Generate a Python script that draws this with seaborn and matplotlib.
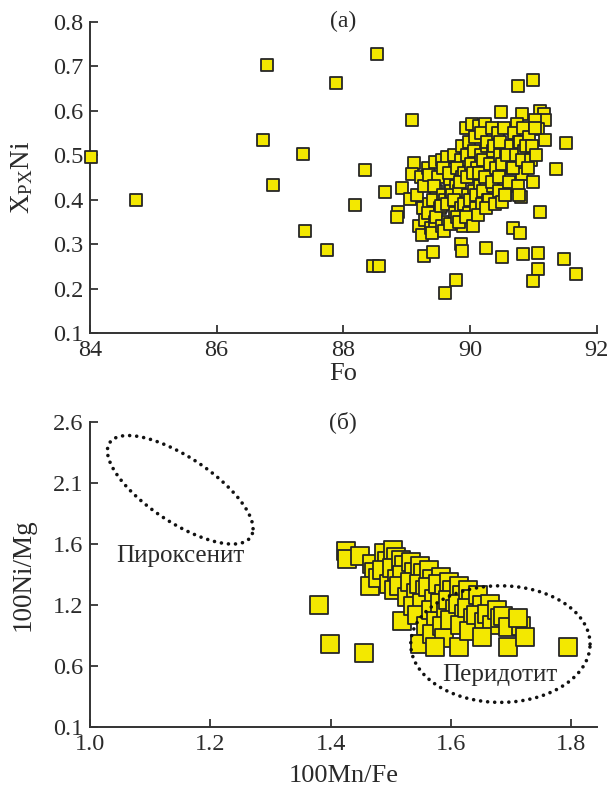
import numpy as np
import matplotlib
matplotlib.use("Agg")
import matplotlib.pyplot as plt
import seaborn as sns

# ---- panel (a): Fo vs X_PX Ni ----
fo_out = [84.02, 84.72, 86.80, 86.73, 86.89, 87.37, 87.39, 87.74, 87.88, 88.53,
          88.34, 88.18, 88.47, 88.56, 88.65, 88.87, 88.85, 88.93, 89.08, 89.12,
          89.05, 89.08, 89.27, 89.42, 89.60, 89.78, 89.85, 89.87, 90.25, 90.51,
          90.49, 90.75, 90.99, 90.82, 91.11, 91.17, 91.19, 91.03, 91.07, 91.19,
          91.51, 91.36, 91.11, 90.82, 90.99, 90.68, 90.79, 90.83, 91.08, 91.08,
          90.99, 91.48, 91.68, 90.80]
ni_out = [0.495, 0.400, 0.702, 0.534, 0.433, 0.503, 0.330, 0.286, 0.662, 0.728,
          0.466, 0.387, 0.250, 0.250, 0.416, 0.371, 0.360, 0.427, 0.580, 0.482,
          0.401, 0.458, 0.273, 0.283, 0.189, 0.220, 0.299, 0.284, 0.292, 0.272,
          0.597, 0.655, 0.668, 0.593, 0.599, 0.592, 0.578, 0.578, 0.559, 0.534,
          0.527, 0.468, 0.373, 0.458, 0.440, 0.337, 0.324, 0.278, 0.280, 0.243,
          0.217, 0.266, 0.233, 0.405]

fo_core = [89.22, 89.16, 89.26, 89.19,
           89.33, 89.27, 89.36, 89.29, 89.24, 89.38,
           89.44, 89.35, 89.47, 89.41, 89.33, 89.45, 89.40,
           89.55, 89.49, 89.43, 89.58, 89.52, 89.46, 89.55,
           89.64, 89.57, 89.68, 89.61, 89.54, 89.66, 89.59, 89.70,
           89.74, 89.67, 89.78, 89.71, 89.63, 89.76, 89.69,
           89.85, 89.80, 89.88, 89.82, 89.75, 89.86, 89.79, 89.89,
           89.93, 89.87, 89.96, 89.91, 89.84, 89.97, 89.90, 89.99, 89.83,
           90.03, 89.98, 90.07, 90.01, 89.95, 90.06, 90.00, 90.09, 89.94,
           90.14, 90.08, 90.17, 90.11, 90.05, 90.16, 90.10, 90.19, 90.04,
           90.23, 90.18, 90.27, 90.21, 90.14, 90.26, 90.20, 90.29, 90.13,
           90.34, 90.27, 90.37, 90.31, 90.24, 90.36, 90.30, 90.25,
           90.44, 90.38, 90.47, 90.41, 90.35, 90.46, 90.40,
           90.54, 90.48, 90.57, 90.51, 90.45, 90.55, 90.50,
           90.64, 90.58, 90.66, 90.61, 90.56,
           90.74, 90.70, 90.77, 90.72, 90.68, 90.75,
           90.84, 90.79, 90.86, 90.82, 90.77,
           90.93, 90.89, 90.96, 90.91,
           91.02, 90.98, 91.04]
ni_core = [0.450, 0.410, 0.380, 0.340,
           0.470, 0.430, 0.390, 0.355, 0.320, 0.335,
           0.485, 0.455, 0.420, 0.400, 0.370, 0.350, 0.325,
           0.490, 0.450, 0.430, 0.410, 0.380, 0.360, 0.340,
           0.495, 0.470, 0.440, 0.400, 0.385, 0.350, 0.330, 0.420,
           0.500, 0.460, 0.430, 0.410, 0.390, 0.370, 0.345,
           0.490, 0.470, 0.450, 0.420, 0.400, 0.380, 0.360, 0.340,
           0.560, 0.520, 0.500, 0.460, 0.440, 0.410, 0.390, 0.370, 0.350,
           0.570, 0.530, 0.510, 0.480, 0.450, 0.420, 0.400, 0.380, 0.360,
           0.565, 0.540, 0.500, 0.470, 0.460, 0.430, 0.410, 0.390, 0.340,
           0.570, 0.550, 0.520, 0.490, 0.460, 0.440, 0.420, 0.400, 0.365,
           0.560, 0.530, 0.510, 0.480, 0.450, 0.430, 0.400, 0.380,
           0.550, 0.520, 0.500, 0.470, 0.440, 0.420, 0.390,
           0.560, 0.530, 0.500, 0.480, 0.450, 0.410, 0.395,
           0.520, 0.500, 0.470, 0.440, 0.410,
           0.570, 0.550, 0.530, 0.500, 0.470, 0.430,
           0.560, 0.530, 0.510, 0.490, 0.410,
           0.540, 0.520, 0.490, 0.470,
           0.560, 0.520, 0.500]

# ---- panel (б): 100Mn/Fe vs 100Ni/Mg ----
mnfe = [1.380, 1.399, 1.456, 1.794, 1.425, 1.427, 1.448,
        1.468, 1.472, 1.466, 1.478,
        1.488, 1.493, 1.485, 1.497,
        1.503, 1.508, 1.502, 1.511, 1.506,
        1.516, 1.522, 1.519, 1.514, 1.527, 1.519,
        1.534, 1.538, 1.531, 1.541, 1.536,
        1.548, 1.553, 1.546, 1.557, 1.551, 1.544, 1.558, 1.548,
        1.563, 1.568, 1.561, 1.572, 1.566, 1.575, 1.569,
        1.583, 1.578, 1.588, 1.581, 1.592, 1.585, 1.589, 1.574,
        1.597, 1.602, 1.595, 1.606, 1.599,
        1.613, 1.618, 1.611, 1.622, 1.615, 1.613,
        1.628, 1.633, 1.626, 1.637, 1.630,
        1.645, 1.651, 1.642, 1.655,
        1.664, 1.659, 1.668, 1.651,
        1.676, 1.681,
        1.687, 1.694, 1.694,
        1.717, 1.712, 1.723]
nimg = [1.103, 0.780, 0.708, 0.753, 1.546, 1.479, 1.506,
        1.44, 1.37, 1.26, 1.32,
        1.53, 1.46, 1.39, 1.27,
        1.55, 1.49, 1.40, 1.31, 1.22,
        1.47, 1.43, 1.35, 1.26, 1.17, 0.97,
        1.45, 1.37, 1.29, 1.20, 1.09,
        1.42, 1.36, 1.27, 1.22, 1.12, 1.02, 0.93, 0.78,
        1.39, 1.31, 1.25, 1.15, 1.06, 0.97, 0.86,
        1.33, 1.27, 1.19, 1.12, 1.04, 0.93, 0.83, 0.76,
        1.29, 1.22, 1.14, 1.07, 0.98,
        1.26, 1.18, 1.11, 1.03, 0.94, 0.76,
        1.22, 1.15, 1.08, 0.99, 0.89,
        1.18, 1.10, 1.02, 0.96,
        1.11, 1.03, 0.94, 0.84,
        1.06, 0.99,
        1.01, 0.92, 0.76,
        0.93, 0.99, 0.84]

# tick positions and their printed labels (panel б)
yticks_b = [0.1, 0.6, 1.1, 1.6, 2.1, 2.6]
ylabels_b = ["0.1", "0.6", "1.2", "1.6", "2.1", "2.6"]

# dotted field outlines: centre, half-widths, tilt phase, label position
fields = {
    "Пироксенит": dict(cx=1.150, cy=2.045, ax=0.121, ay=0.445, ph=-0.80,
                       tx=1.151, ty=1.505),
    "Перидотит": dict(cx=1.682, cy=0.780, ax=0.149, ay=0.478, ph=0.0,
                      tx=1.681, ty=0.526),
}

sns.set_style("ticks")
plt.rcParams["font.family"] = ["Liberation Serif", "DejaVu Serif"]
plt.rcParams["mathtext.fontset"] = "custom"
plt.rcParams["mathtext.rm"] = "Liberation Serif"
plt.rcParams["mathtext.it"] = "Liberation Serif:italic"

YELLOW = "#f3e800"
EDGE = "#262626"
INK = "#2a2a2a"

fig = plt.figure(figsize=(6.12, 7.90), dpi=100)
ax1 = fig.add_axes([0.147, 0.5785, 0.828, 0.394])
ax2 = fig.add_axes([0.147, 0.0797, 0.828, 0.386])

fo_all = fo_out + fo_core
ni_all = ni_out + ni_core
sns.scatterplot(x=fo_all, y=ni_all, ax=ax1, marker="s", s=63, color=YELLOW,
                edgecolor=EDGE, linewidth=1.3, zorder=3, clip_on=False)
ax1.set_xlim(84, 92)
ax1.set_ylim(0.1, 0.8)
ax1.set_xticks([84, 86, 88, 90, 92])
ax1.set_yticks([0.1, 0.2, 0.3, 0.4, 0.5, 0.6, 0.7, 0.8])
ax1.set_yticklabels(["0.1", "0.2", "0.3", "0.4", "0.5", "0.6", "0.7", "0.8"])
ax1.set_xlabel("Fo", fontsize=19)
ax1.set_ylabel(r"X$_{\mathrm{PX}}$Ni", fontsize=19.5)
ax1.text(0.5, 1.0, "(a)", transform=ax1.transAxes, ha="center", va="center",
         fontsize=17, color=INK)

sns.scatterplot(x=mnfe, y=nimg, ax=ax2, marker="s", s=150, color=YELLOW,
                edgecolor=EDGE, linewidth=1.3, zorder=3)
t = np.linspace(0, 2 * np.pi, 400)
for name, f in fields.items():
    ex = f["cx"] + f["ax"] * np.cos(t)
    ey = f["cy"] + f["ay"] * np.sin(t + f["ph"])
    ax2.plot(ex, ey, color="#111111", lw=2.6, linestyle=(0, (0.01, 1.95)),
             dash_capstyle="round", zorder=5)
    ax2.text(f["tx"], f["ty"], name, ha="center", va="center", fontsize=18,
             color=INK, zorder=6)
ax2.set_xlim(1.0, 1.842)
ax2.set_ylim(0.1, 2.6)
ax2.set_xticks([1.0, 1.2, 1.4, 1.6, 1.8])
ax2.set_xticklabels(["1.0", "1.2", "1.4", "1.6", "1.8"])
ax2.set_yticks(yticks_b)
ax2.set_yticklabels(ylabels_b)
ax2.set_xlabel("100Mn/Fe", fontsize=19)
ax2.set_ylabel("100Ni/Mg", fontsize=19.5)
ax2.text(0.5, 1.0, "(б)", transform=ax2.transAxes, ha="center", va="center",
         fontsize=17, color=INK)

for ax in (ax1, ax2):
    sns.despine(ax=ax)
    for side in ("left", "bottom"):
        ax.spines[side].set_linewidth(1.4)
        ax.spines[side].set_color("#333333")
    ax.tick_params(direction="in", length=6, width=1.3, labelsize=17.5,
                   colors="#333333", labelcolor=INK, pad=5)
    ax.yaxis.set_label_coords(-0.108, 0.5)
    ax.xaxis.label.set_color(INK)
    ax.yaxis.label.set_color(INK)
ax1.xaxis.set_label_coords(0.5, -0.097)
ax2.xaxis.set_label_coords(0.5, -0.125)

fig.savefig("out.png", dpi=100)
